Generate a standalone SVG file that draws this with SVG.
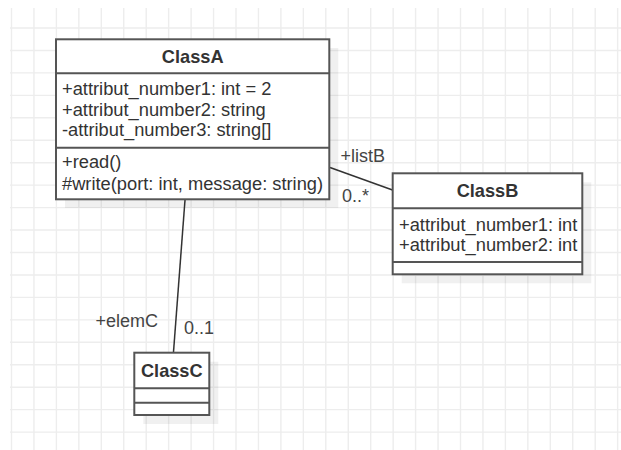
<svg xmlns="http://www.w3.org/2000/svg" width="621" height="450" viewBox="0 0 621 450">
  <style>
    .grid { stroke: #ededed; stroke-width: 1.4; fill: none; }
    .box { fill: #ffffff; stroke: #555555; stroke-width: 2; }
    .sep { stroke: #555555; stroke-width: 2; fill: none; }
    .shadow { fill: #000000; fill-opacity: 0.06; }
    .title { font-family: "Liberation Sans", Arial, sans-serif; font-size: 18.2px; font-weight: bold; fill: #333333; text-anchor: middle; }
    .member { font-family: "Liberation Sans", Arial, sans-serif; font-size: 18.3px; fill: #333333; }
    .label { font-family: "Liberation Sans", Arial, sans-serif; font-size: 18px; fill: #444444; }
    .edge { stroke: #333333; stroke-width: 1.5; fill: none; }
  </style>
  <rect width="621" height="450" fill="#ffffff"/>

  <!-- background grid -->
  <path class="grid" d="M11.5 8V450 M33.95 8V450 M56.4 8V450 M78.85 8V450 M101.3 8V450 M123.75 8V450 M146.2 8V450 M168.65 8V450 M191.1 8V450 M213.55 8V450 M236 8V450 M258.45 8V450 M280.9 8V450 M303.35 8V450 M325.8 8V450 M348.25 8V450 M370.7 8V450 M393.15 8V450 M415.6 8V450 M438.05 8V450 M460.5 8V450 M482.95 8V450 M505.4 8V450 M527.85 8V450 M550.3 8V450 M572.75 8V450 M595.2 8V450 M617.65 8V450 M10 28H621 M10 50.45H621 M10 72.9H621 M10 95.35H621 M10 117.8H621 M10 140.25H621 M10 162.7H621 M10 185.15H621 M10 207.6H621 M10 230.05H621 M10 252.5H621 M10 274.95H621 M10 297.4H621 M10 319.85H621 M10 342.3H621 M10 364.75H621 M10 387.2H621 M10 409.65H621 M10 432.1H621"/>

  <!-- associations -->
  <g id="connectors">
    <line class="edge" x1="330" y1="167.5" x2="392.5" y2="190"/>
    <line class="edge" x1="185" y1="200" x2="173.5" y2="352"/>
    <text class="label" x="340.5" y="162.3">+listB</text>
    <text class="label" x="342" y="201.5">0..*</text>
    <text class="label" x="95.5" y="327.3">+elemC</text>
    <text class="label" x="184" y="334.3">0..1</text>
  </g>

  <g id="ClassA">
    <rect class="shadow" x="65" y="48" width="273.3" height="160"/>
    <rect class="box" x="56" y="39.3" width="273.3" height="160"/>
    <line class="sep" x1="56" y1="73.3" x2="329.3" y2="73.3"/>
    <line class="sep" x1="56" y1="147.7" x2="329.3" y2="147.7"/>
    <text class="title" x="192.7" y="63.3">ClassA</text>
    <text class="member" x="62" y="95">+attribut_number1: int = 2</text>
    <text class="member" x="62" y="115.5">+attribut_number2: string</text>
    <text class="member" x="62" y="136">-attribut_number3: string[]</text>
    <text class="member" x="62" y="168.3">+read()</text>
    <text class="member" x="62" y="190">#write(port: int, message: string)</text>
  </g>

  <g id="ClassB">
    <rect class="shadow" x="401.7" y="182.3" width="189.6" height="101"/>
    <rect class="box" x="392.7" y="173.3" width="189.6" height="101"/>
    <line class="sep" x1="392.7" y1="208.3" x2="582.3" y2="208.3"/>
    <line class="sep" x1="392.7" y1="262" x2="582.3" y2="262"/>
    <text class="title" x="487.5" y="196.7">ClassB</text>
    <text class="member" x="399" y="230.7">+attribut_number1: int</text>
    <text class="member" x="399" y="251">+attribut_number2: int</text>
  </g>

  <g id="ClassC">
    <rect class="shadow" x="143.3" y="361.7" width="75" height="62.3"/>
    <rect class="box" x="134.3" y="352.7" width="75" height="62.3"/>
    <line class="sep" x1="134.3" y1="388.3" x2="209.3" y2="388.3"/>
    <line class="sep" x1="134.3" y1="402.7" x2="209.3" y2="402.7"/>
    <text class="title" x="171.8" y="377.3">ClassC</text>
  </g>
</svg>
